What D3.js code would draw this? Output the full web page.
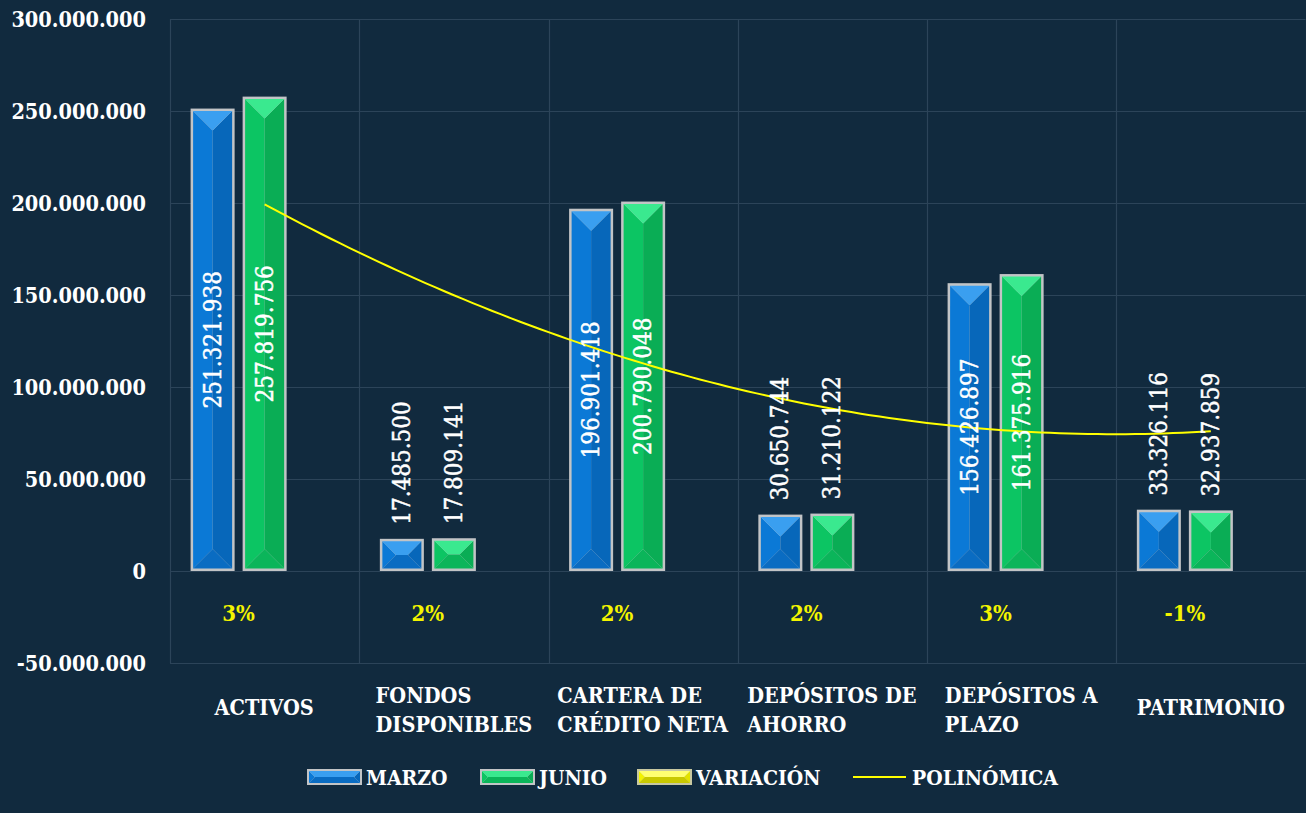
<!DOCTYPE html>
<html>
<head>
<meta charset="utf-8">
<script src="https://cdn.jsdelivr.net/npm/d3@7"></script>
<style>
  html, body { margin: 0; padding: 0; background: #112a3e; }
  svg { display: block; }
  text { font-family: "DejaVu Serif Condensed", "DejaVu Serif", serif; font-stretch: condensed; }
</style>
</head>
<body>
<svg id="chart" width="1306" height="813"></svg>
<script>
// ---------------- data ----------------
const categories = ["ACTIVOS", "FONDOS\nDISPONIBLES", "CARTERA DE\nCRÉDITO NETA", "DEPÓSITOS DE\nAHORRO", "DEPÓSITOS A\nPLAZO", "PATRIMONIO"];
const marzo = [251321938, 17485500, 196901418, 30650744, 156426897, 33326116];
const junio = [257819756, 17809141, 200790048, 31210122, 161375916, 32937859];
const variacion = [0.03, 0.02, 0.02, 0.02, 0.03, -0.01];
const seriesNames = ["MARZO", "JUNIO", "VARIACIÓN"];
const yTicks = [-50000000, 0, 50000000, 100000000, 150000000, 200000000, 250000000, 300000000];
const legendNames = ["MARZO", "JUNIO", "VARIACIÓN", "POLINÓMICA"];

// ---------------- setup ----------------
const W = 1306, H = 813;
const plot = { left: 170, right: 1305.5, top: 19, bottom: 663 };
const svg = d3.select("#chart");

const fmtNum = n => {
  const s = Math.abs(Math.round(n)).toString().replace(/\B(?=(\d{3})+(?!\d))/g, ".");
  return (n < 0 ? "-" : "") + s;
};
const fmtPct = v => Math.round(v * 100) + "%";

const x0 = d3.scaleBand().domain(d3.range(categories.length)).range([plot.left, plot.right]).padding(0);
const groupPad = 20.6;
const x1 = d3.scaleBand().domain(seriesNames).range([groupPad, x0.bandwidth() - groupPad]).paddingInner(0.1538).paddingOuter(0);
const y = d3.scaleLinear().domain([-50000000, 300000000]).range([plot.bottom, plot.top]);

const palette = {
  MARZO: { border: "#c2c4c6", top: "#3a9ff0", left: "#0b79d6", right: "#0767ba", bottom: "#0a6cc2" },
  JUNIO: { border: "#c2c4c6", top: "#3ae98f", left: "#0cc563", right: "#0aad55", bottom: "#0bb55a" },
  "VARIACIÓN": { border: "#c8c8a0", top: "#ffff70", left: "#f2f200", right: "#e2e200", bottom: "#c9c900" }
};
const gridColor = "#2c4459";

// ---------------- grid ----------------
const grid = svg.append("g");
grid.selectAll("line.h").data(yTicks).join("line")
  .attr("x1", plot.left).attr("x2", plot.right)
  .attr("y1", d => Math.round(y(d)) + 0.5).attr("y2", d => Math.round(y(d)) + 0.5)
  .attr("stroke", gridColor).attr("stroke-width", 1.2);
grid.selectAll("line.v").data(d3.range(categories.length + 1)).join("line")
  .attr("x1", i => Math.round(plot.left + i * x0.bandwidth()) + 0.5)
  .attr("x2", i => Math.round(plot.left + i * x0.bandwidth()) + 0.5)
  .attr("y1", plot.top).attr("y2", plot.bottom)
  .attr("stroke", gridColor).attr("stroke-width", 1.2);

// ---------------- y axis labels ----------------
const yAxis = d3.axisLeft(y).tickValues(yTicks).tickFormat(fmtNum).tickSize(0).tickPadding(0);
const yg = svg.append("g").attr("transform", `translate(146,0)`).call(yAxis);
yg.select(".domain").remove();
yg.selectAll("text").attr("fill", "#ffffff").attr("font-size", 21.5).attr("font-weight", "bold")
  .attr("dy", "0.36em").attr("font-family", null);

// ---------------- bevel helper ----------------
function bevel(g, x, yTop, w, h, pal, bw) {
  g.append("rect").attr("x", x).attr("y", yTop).attr("width", w).attr("height", h).attr("fill", pal.border);
  const ix = x + bw, iy = yTop + bw, iw = Math.max(0, w - 2 * bw), ih = Math.max(0, h - 2 * bw);
  const d = Math.min(iw, ih) / 2;
  const P = pts => pts.map(p => p.join(",")).join(" ");
  g.append("polygon").attr("fill", pal.left).attr("points", P([[ix, iy], [ix + d, iy + d], [ix + d, iy + ih - d], [ix, iy + ih]]));
  g.append("polygon").attr("fill", pal.right).attr("points", P([[ix + iw, iy], [ix + iw - d, iy + d], [ix + iw - d, iy + ih - d], [ix + iw, iy + ih]]));
  if (iw - 2 * d > 0.01) {
    g.append("rect").attr("x", ix + d).attr("y", iy + d).attr("width", iw - 2 * d).attr("height", Math.max(0, ih - 2 * d)).attr("fill", pal.left);
  }
  g.append("polygon").attr("fill", pal.top).attr("points", P([[ix, iy], [ix + iw, iy], [ix + iw - d, iy + d], [ix + d, iy + d]]));
  g.append("polygon").attr("fill", pal.bottom).attr("points", P([[ix, iy + ih], [ix + iw, iy + ih], [ix + iw - d, iy + ih - d], [ix + d, iy + ih - d]]));
}

// ---------------- bars ----------------
const barSeries = [{ name: "MARZO", values: marzo }, { name: "JUNIO", values: junio }];
const barsG = svg.append("g");
barSeries.forEach(s => {
  s.values.forEach((v, i) => {
    const bx = x0(i) + x1(s.name);
    const yt = y(Math.max(0, v)), yb = y(Math.min(0, v));
    bevel(barsG, bx, yt, x1.bandwidth(), yb - yt, palette[s.name], 2.5);
  });
});

// ---------------- polynomial trendline (order 2, least squares on JUNIO) ----------------
function quadFit(ys) {
  const xs = ys.map((_, i) => i + 1);
  let S = [0, 0, 0, 0, 0], T = [0, 0, 0];
  xs.forEach((xv, k) => {
    for (let p = 0; p < 5; p++) S[p] += Math.pow(xv, p);
    for (let p = 0; p < 3; p++) T[p] += Math.pow(xv, p) * ys[k];
  });
  const M = [[S[0], S[1], S[2], T[0]], [S[1], S[2], S[3], T[1]], [S[2], S[3], S[4], T[2]]];
  for (let c = 0; c < 3; c++) {
    for (let r = c + 1; r < 3; r++) {
      const f = M[r][c] / M[c][c];
      for (let k = c; k < 4; k++) M[r][k] -= f * M[c][k];
    }
  }
  const sol = [0, 0, 0];
  for (let r = 2; r >= 0; r--) {
    let s = M[r][3];
    for (let k = r + 1; k < 3; k++) s -= M[r][k] * sol[k];
    sol[r] = s / M[r][r];
  }
  return xv => sol[0] + sol[1] * xv + sol[2] * xv * xv;
}
const trend = quadFit(junio);
const tx = d3.scaleLinear().domain([1, categories.length]).range([x0(0) + x0.bandwidth() / 2, x0(categories.length - 1) + x0.bandwidth() / 2]);
const tpts = d3.range(0, 101).map(k => 1 + k * (categories.length - 1) / 100);
svg.append("path").datum(tpts)
  .attr("d", d3.line().x(t => tx(t)).y(t => y(trend(t))))
  .attr("fill", "none").attr("stroke", "#ffff00").attr("stroke-width", 2);

// ---------------- value labels ----------------
const labG = svg.append("g");
const labelLen = 140;
barSeries.forEach(s => {
  s.values.forEach((v, i) => {
    const cx = x0(i) + x1(s.name) + x1.bandwidth() / 2;
    const yt = y(v), yb = y(0);
    const t = labG.append("text").text(fmtNum(v))
      .attr("fill", "#ffffff").attr("stroke", "#ffffff").attr("stroke-width", 0.45)
      .attr("font-size", 24).attr("font-weight", "normal")
      .attr("dominant-baseline", "central");
    if (yb - yt > labelLen + 20) {
      const cy = (yt + yb) / 2;
      t.attr("text-anchor", "middle").attr("transform", `translate(${cx},${cy}) rotate(-90)`);
    } else {
      t.attr("text-anchor", "start").attr("transform", `translate(${cx},${yt - 14}) rotate(-90)`);
    }
  });
});

// variation labels (below the axis)
variacion.forEach((v, i) => {
  const cx = x0(i) + (x1("MARZO") + x1("JUNIO") + x1.bandwidth()) / 2;
  labG.append("text").text(fmtPct(v))
    .attr("x", cx).attr("y", 613).attr("text-anchor", "middle").attr("dominant-baseline", "central")
    .attr("fill", "#f4f400").attr("font-size", 22).attr("font-weight", "bold");
});

// ---------------- category labels ----------------
const catG = svg.append("g");
categories.forEach((c, i) => {
  const lines = c.split("\n");
  const cx = x0(i) + x0.bandwidth() / 2;
  const lineH = 28.5;
  const baseY = lines.length === 1 ? 715 : 703;
  const t = catG.append("text").attr("fill", "#ffffff").attr("font-size", 21.5).attr("font-weight", "bold");
  lines.forEach((ln, k) => {
    t.append("tspan").attr("x", 0).attr("y", baseY + k * lineH).text(ln);
  });
  const w = t.node().getBBox().width;
  t.attr("transform", `translate(${cx - w / 2},0)`);
});

// ---------------- legend ----------------
const legG = svg.append("g");
const legX = [307, 480, 637, 853];
const legY = 777;
legendNames.forEach((name, i) => {
  const lx = legX[i];
  if (name === "POLINÓMICA") {
    legG.append("line").attr("x1", lx).attr("x2", lx + 53).attr("y1", legY).attr("y2", legY)
      .attr("stroke", "#ffff00").attr("stroke-width", 2);
  } else {
    bevel(legG, lx, legY - 8, 55, 16, palette[name], 2);
  }
  legG.append("text").text(name).attr("x", lx + 59).attr("y", legY).attr("dominant-baseline", "central")
    .attr("fill", "#ffffff").attr("font-size", 21).attr("font-weight", "bold");
});
</script>
</body>
</html>
